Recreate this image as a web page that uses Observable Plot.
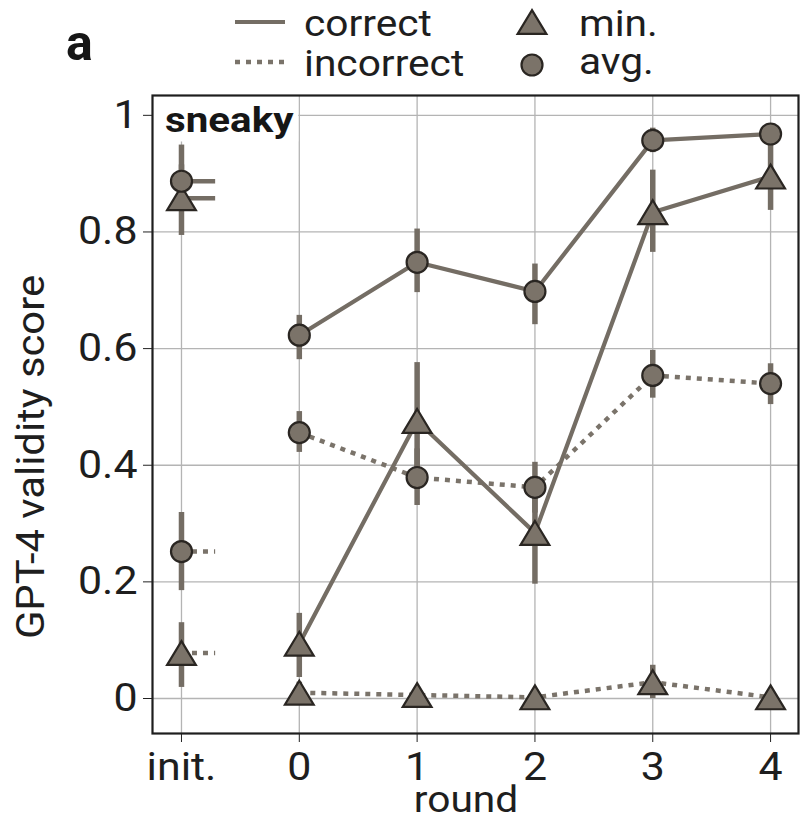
<!DOCTYPE html>
<html>
<head>
<meta charset="utf-8">
<script src="https://cdn.jsdelivr.net/npm/d3@7"></script>
<script src="https://cdn.jsdelivr.net/npm/@observablehq/plot@0.6"></script>
<style>
  body { margin: 0; background: #fff; }
  #chart { width: 800px; height: 823px; }
  #chart svg { font-family: Roboto, "Liberation Sans", sans-serif; }
</style>
</head>
<body>
<div id="chart"></div>
<script>
// Rounds of checkability training; -1 stands for the initial prover ("init.")
const rounds = [-1, 0, 1, 2, 3, 4];
const roundLabels = ["init.", "0", "1", "2", "3", "4"];
const yTicks = [0, 0.2, 0.4, 0.6, 0.8, 1];

// GPT-4 validity score of the sneaky prover, per round
const correctAvg   = [0.887, 0.623, 0.748, 0.698, 0.957, 0.968];
const correctAvgLo = [0.845, 0.581, 0.696, 0.641, 0.936, 0.952];
const correctAvgHi = [0.949, 0.657, 0.805, 0.745, 0.978, 0.982];

const correctMin   = [0.858, 0.094, 0.476, 0.284, 0.834, 0.895];
const correctMinLo = [0.794, 0.036, 0.385, 0.196, 0.765, 0.837];
const correctMinHi = [0.915, 0.146, 0.576, 0.370, 0.906, 0.955];

const incorrectAvg   = [0.252, 0.456, 0.379, 0.362, 0.554, 0.540];
const incorrectAvgLo = [0.185, 0.422, 0.331, 0.318, 0.515, 0.504];
const incorrectAvgHi = [0.319, 0.492, 0.428, 0.405, 0.597, 0.574];

const incorrectMin   = [0.078, 0.010, 0.006, 0.002, 0.028, 0.002];
const incorrectMinLo = [0.019, 0.000, 0.000, 0.000, 0.000, 0.000];
const incorrectMinHi = [0.130, 0.028, 0.018, 0.010, 0.057, 0.010];

const series = [
  {outcome: "correct",   stat: "avg", v: correctAvg,   lo: correctAvgLo,   hi: correctAvgHi},
  {outcome: "correct",   stat: "min", v: correctMin,   lo: correctMinLo,   hi: correctMinHi},
  {outcome: "incorrect", stat: "avg", v: incorrectAvg, lo: incorrectAvgLo, hi: incorrectAvgHi},
  {outcome: "incorrect", stat: "min", v: incorrectMin, lo: incorrectMinLo, hi: incorrectMinHi}
];
const records = series.flatMap(s => rounds.map((r, i) => ({
  round: r, outcome: s.outcome, stat: s.stat, value: s.v[i], lo: s.lo[i], hi: s.hi[i]
})));

const INIT = -1;
const stubLength = 0.29; // short horizontal tail that marks the line style at "init."

const lineColor = "#746d64";
const dotColor = "#7a736a";
const markFill = "#7b7369";
const markStroke = "#2a2622";
const gridColor = "#b4b4b4";
const textColor = "#1e1e1e";
const dotted = "5,6";
const wide = 1.1; // horizontal widening of the lettering

// upward triangle centred on its bounding box
const triangleUp = {
  draw(ctx, size) {
    const r = Math.sqrt(size / Math.PI);
    const w = r * 1.17, h = r * 0.97;
    ctx.moveTo(0, -h);
    ctx.lineTo(w, h);
    ctx.lineTo(-w, h);
    ctx.closePath();
  }
};

const trained = records.filter(d => d.round !== INIT);
const initial = records.filter(d => d.round === INIT);
const stub = {y: "value", x1: "round", x2: d => d.round + stubLength, strokeWidth: 4.5};

const chart = Plot.plot({
  width: 800,
  height: 823,
  marginLeft: 152,
  marginRight: 2,
  marginTop: 95,
  marginBottom: 90,
  style: {fontFamily: "Roboto, sans-serif", color: textColor, background: "#fff"},
  x: {domain: [-1.246, 4.237]},
  y: {domain: [-0.06, 1.034]},
  marks: [
    Plot.gridX(rounds, {stroke: gridColor, strokeOpacity: 1, strokeWidth: 1.3}),
    Plot.gridY(yTicks, {stroke: gridColor, strokeOpacity: 1, strokeWidth: 1.3}),
    Plot.axisX({
      ticks: rounds, tickFormat: d => roundLabels[rounds.indexOf(d)],
      tickSize: 9, tickPadding: 10, fontSize: 39, label: null, stroke: "#222"
    }),
    Plot.axisY({
      ticks: yTicks, tickFormat: d3.format("~g"),
      tickSize: 9, tickPadding: 6, fontSize: 39, label: null, stroke: "#222"
    }),
    // error bars
    Plot.ruleX(records, {x: "round", y1: "lo", y2: "hi", stroke: lineColor, strokeWidth: 5.5}),
    // connecting lines
    Plot.line(trained.filter(d => d.outcome === "incorrect"), {
      x: "round", y: "value", z: "stat", stroke: dotColor, strokeWidth: 4.5,
      strokeDasharray: dotted, strokeLinecap: "butt"
    }),
    Plot.line(trained.filter(d => d.outcome === "correct"), {
      x: "round", y: "value", z: "stat", stroke: lineColor, strokeWidth: 4.2
    }),
    // stubs at the initial prover
    Plot.ruleY(initial.filter(d => d.outcome === "correct"), {...stub, stroke: lineColor}),
    Plot.ruleY(initial.filter(d => d.outcome === "incorrect"), {...stub, stroke: dotColor, strokeDasharray: dotted}),
    // markers
    Plot.dot(records.filter(d => d.stat === "min"), {
      x: "round", y: "value", symbol: triangleUp, r: 12.3,
      fill: markFill, stroke: markStroke, strokeWidth: 2.2
    }),
    Plot.dot(records.filter(d => d.stat === "avg"), {
      x: "round", y: "value", symbol: "circle", r: 10.5,
      fill: markFill, stroke: markStroke, strokeWidth: 2.2
    }),
    Plot.frame({stroke: textColor, strokeWidth: 2.2})
  ]
});

document.getElementById("chart").append(chart);

const svg = d3.select(chart);

// widen a text element about its own anchor point
function widen(el, s) {
  const t = el.getAttribute("transform") || "";
  const x = +el.getAttribute("x") || 0;
  const y = +el.getAttribute("y") || 0;
  el.setAttribute("transform", `${t} translate(${x},${y}) scale(${s},1) translate(${-x},${-y})`);
}
svg.selectAll("g[aria-label$='tick label'] text").each(function() { widen(this, wide); });

// panel label on a white box
const panel = svg.append("g");
const box = panel.append("rect").attr("fill", "#fff");
const sneaky = panel.append("text")
  .attr("text-anchor", "start")
  .attr("font-size", 36).attr("font-weight", "bold").attr("fill", "#161616")
  .attr("transform", `translate(165,132) scale(${wide + 0.02},1)`)
  .text("sneaky");
const sb = sneaky.node().getBBox();
box.attr("x", 153).attr("y", 96)
  .attr("width", 165 + (sb.x + sb.width) * (wide + 0.02) + 4 - 153)
  .attr("height", 132 + sb.y + sb.height + 1 - 96);
// keep the frame above the label box
svg.node().append(svg.select("g[aria-label='frame']").node() || svg.select("rect:last-of-type").node());

// axis titles
svg.append("text")
  .attr("transform", "translate(44,457) rotate(-90) scale(1.1,1)")
  .attr("text-anchor", "middle")
  .attr("font-size", 38).attr("fill", textColor)
  .text("GPT-4 validity score");
svg.append("text")
  .attr("transform", `translate(466,812) scale(${wide},1)`)
  .attr("text-anchor", "middle")
  .attr("font-size", 37).attr("fill", textColor)
  .text("round");

// panel letter
svg.append("text")
  .attr("x", 66).attr("y", 60).attr("text-anchor", "start")
  .attr("font-size", 50).attr("font-weight", "bold").attr("fill", "#161616")
  .text("a");

// legend
const leg = svg.append("g").attr("font-size", 37).attr("fill", textColor).attr("text-anchor", "start");
leg.append("line").attr("x1", 235).attr("x2", 285).attr("y1", 22).attr("y2", 22)
  .attr("stroke", lineColor).attr("stroke-width", 4.2);
leg.append("line").attr("x1", 235).attr("x2", 285).attr("y1", 62).attr("y2", 62)
  .attr("stroke", dotColor).attr("stroke-width", 4.5).attr("stroke-dasharray", dotted);
leg.append("text").attr("transform", `translate(304,36) scale(${wide},1)`).text("correct");
leg.append("text").attr("transform", `translate(304,76) scale(${wide},1)`).text("incorrect");
leg.append("path").attr("transform", "translate(532,22)")
  .attr("d", d3.symbol(triangleUp, Math.PI * 12.3 * 12.3)())
  .attr("fill", markFill).attr("stroke", markStroke).attr("stroke-width", 2.2);
leg.append("path").attr("transform", "translate(532,65)")
  .attr("d", d3.symbol(d3.symbolCircle, Math.PI * 10.5 * 10.5)())
  .attr("fill", markFill).attr("stroke", markStroke).attr("stroke-width", 2.2);
leg.append("text").attr("transform", `translate(579,36) scale(${wide},1)`).text("min.");
leg.append("text").attr("transform", `translate(579,74) scale(${wide},1)`).text("avg.");
</script>
</body>
</html>
